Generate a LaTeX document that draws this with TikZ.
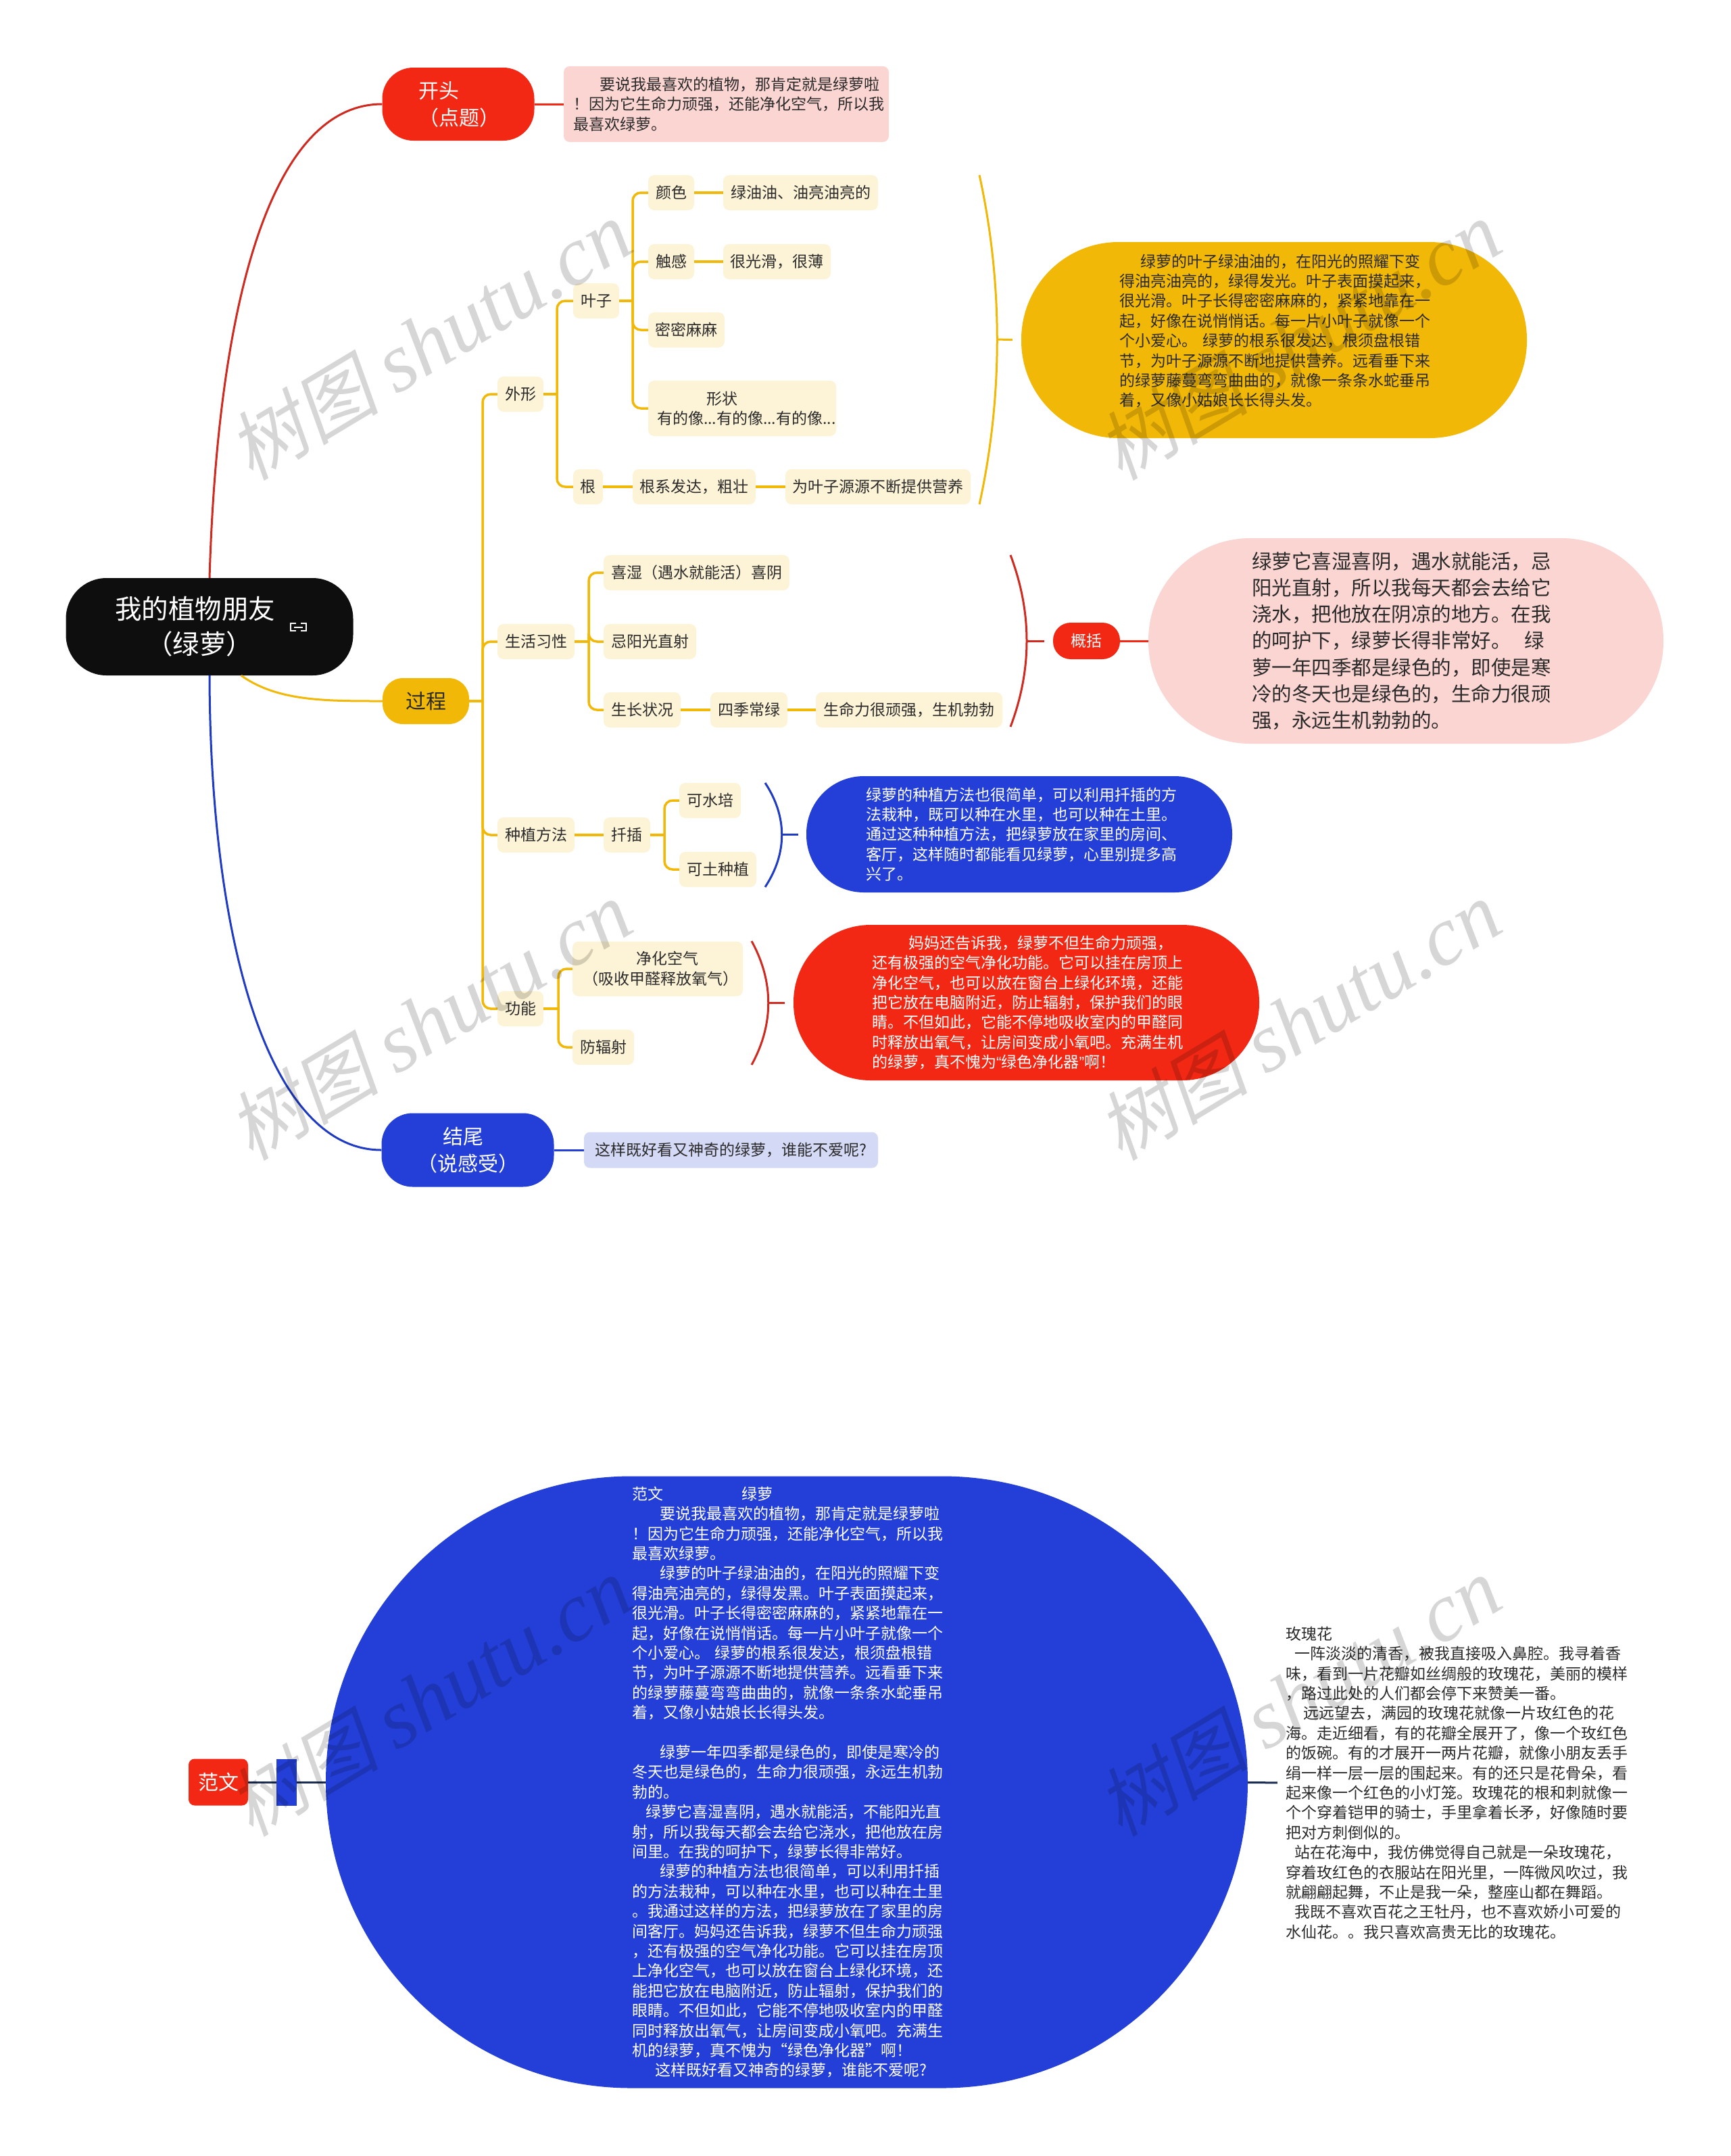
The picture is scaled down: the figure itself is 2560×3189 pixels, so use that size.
\documentclass[tikz,border=0pt]{standalone}
\usepackage{fontspec}
\setmainfont{Noto Sans CJK SC}
\newfontfamily\markcjk[FakeSlant = 0.2]{Noto Sans CJK SC}
\newfontfamily\marklatin{Liberation Serif}
\newfontfamily\quotefont{Liberation Sans}

\definecolor{mapred}{HTML}{F22814}
\definecolor{lineRed}{HTML}{CF2A20}
\definecolor{mapyellow}{HTML}{F2B807}
\definecolor{mapblue}{HTML}{233FD8}
\definecolor{lineBlue}{HTML}{1F3BC4}
\definecolor{leafyellow}{HTML}{FDF3D6}
\definecolor{leafpink}{HTML}{FBD5D1}
\definecolor{leafblue}{HTML}{D4D9F6}
\definecolor{mapblack}{HTML}{0E0E0E}
\definecolor{ink}{HTML}{2A2A2A}
\definecolor{navy}{HTML}{1B2D55}

\newcommand{\smalltext}{\fontsize{23}{29.4}\selectfont}
\newcommand{\midtext}{\fontsize{30}{40}\selectfont}
\newcommand{\bigtext}{\fontsize{29.5}{39.3}\selectfont}
\newcommand{\roottext}{\fontsize{39.5}{52}\selectfont}

\tikzset{
	leaf/.style = {fill = leafyellow, rounded corners = 9pt, inner sep = 0pt, minimum height = 52pt, text = ink, align = center, font = \smalltext},
	pill/.style = {rounded corners = #1, inner sep = 0pt, align = left},
	topic/.style = {pill = 46pt, font = \midtext, align = center},
	link/.style = {line width = 3.5pt, rounded corners = 12pt},
	bow/.style = {line width = 3pt},
}

\begin{document}
\begin{tikzpicture}[x = 1pt, y = -1pt]

	\useasboundingbox (0, 0) rectangle (2560, 3189);

	% Root and the three main topics

	\node [pill = 60pt, fill = mapblack, text = white, font = \roottext, minimum width = 425pt, minimum height = 144pt, text width = 280pt] (root) at (310, 927) {我的植物朋友\\\hspace*{46pt}（绿萝）};
	\node [topic, fill = mapred, text = white, minimum width = 225pt, minimum height = 108pt, text width = 118pt, align = left] (start) at (678, 154) {开头\\（点题）};
	\node [topic, fill = mapyellow, text = ink, minimum width = 128pt, minimum height = 68pt, pill = 30pt, align = center] (middle) at (630, 1037) {过程};
	\node [topic, fill = mapblue, text = white, minimum width = 255pt, minimum height = 109pt, text width = 150pt, align = left] (end) at (692, 1701) {\hspace*{38pt}结尾\\（说感受）};

	\draw [white, line width = 1.7pt] (438, 922) -| (430, 933) -- (438, 933) (445, 922) -| (453, 933) -- (445, 933) (435, 928) -- (448, 928);

	\draw [lineRed, line width = 3pt] (root.north) .. controls (322, 450) and (400, 154) .. (start.west);
	\draw [mapyellow, line width = 3pt] (root.-57) .. controls (410, 1037) and (480, 1037) .. (middle.west);
	\draw [lineBlue, line width = 3pt] (root.south) .. controls (311, 1400) and (400, 1701) .. (end.west);

	% Notes beside the first and the last topic

	\node [leaf, fill = leafpink, minimum width = 481pt, minimum height = 112pt, text width = 453pt, align = left] (startNote) at (1074.5, 154) {\hspace*{39pt}要说我最喜欢的植物，那肯定就是绿萝啦\\！因为它生命力顽强，还能净化空气，所以我\\最喜欢绿萝。};
	\node [leaf, fill = leafblue, minimum width = 435pt, minimum height = 53pt] (endNote) at (1081.5, 1701) {这样既好看又神奇的绿萝，谁能不爱呢?};

	\draw [mapred, line width = 3pt] (start) -- (startNote);
	\draw [mapblue, line width = 3pt] (end) -- (endNote);

	% Second level under the middle topic

	\node [leaf, minimum width = 68pt] (shape) at (770, 583) {外形};
	\node [leaf, minimum width = 114pt] (habit) at (793, 949) {生活习性};
	\node [leaf, minimum width = 114pt] (grow) at (793, 1235) {种植方法};
	\node [leaf, minimum width = 68pt] (use) at (770, 1492) {功能};

	\coordinate (trunkA) at (714, 1037);
	\draw [mapyellow, link] (middle) -- (trunkA);
	\foreach \child in {shape, habit, grow, use}
		\draw [mapyellow, link] (trunkA) |- (\child.west);

	% Leaves and roots

	\node [leaf, minimum width = 68pt] (leafs) at (882, 445) {叶子};
	\node [leaf, minimum width = 44pt] (roots) at (870, 720) {根};
	\node [leaf, minimum width = 68pt] (colour) at (993, 285) {颜色};
	\node [leaf, minimum width = 229pt] (colourA) at (1184.5, 285) {绿油油、油亮油亮的};
	\node [leaf, minimum width = 68pt] (touch) at (993, 387) {触感};
	\node [leaf, minimum width = 159pt] (touchA) at (1149.5, 387) {很光滑，很薄};
	\node [leaf, minimum width = 113pt] (dense) at (1015.5, 488) {密密麻麻};
	\node [leaf, minimum width = 278pt, minimum height = 82pt, text width = 252pt, align = left] (form) at (1098, 604) {\hspace*{73pt}形状\\有的像...有的像...有的像...};
	\node [leaf, minimum width = 182pt] (rootA) at (1027, 720) {根系发达，粗壮};
	\node [leaf, minimum width = 274pt] (rootB) at (1299, 720) {为叶子源源不断提供营养};

	\coordinate (trunkB) at (824, 583);
	\coordinate (trunkC) at (936, 445);
	\draw [mapyellow, link] (shape) -- (trunkB);
	\draw [mapyellow, link] (leafs) -- (trunkC);
	\foreach \child in {leafs, roots}
		\draw [mapyellow, link] (trunkB) |- (\child.west);
	\foreach \child in {colour, touch, dense, form}
		\draw [mapyellow, link] (trunkC) |- (\child.west);
	\draw [mapyellow, link] (colour) -- (colourA);
	\draw [mapyellow, link] (touch) -- (touchA);
	\draw [mapyellow, link] (roots) -- (rootA);
	\draw [mapyellow, link] (rootA) -- (rootB);

	% Habits

	\node [leaf, minimum width = 275pt] (wet) at (1030.5, 847) {喜湿（遇水就能活）喜阴};
	\node [leaf, minimum width = 137pt] (sun) at (961.5, 949) {忌阳光直射};
	\node [leaf, minimum width = 114pt] (state) at (950, 1050) {生长状况};
	\node [leaf, minimum width = 114pt] (green) at (1108, 1050) {四季常绿};
	\node [leaf, minimum width = 276pt] (alive) at (1345, 1050) {生命力很顽强，生机勃勃};

	\coordinate (trunkD) at (871, 949);
	\draw [mapyellow, link] (habit) -- (trunkD);
	\foreach \child in {wet, sun, state}
		\draw [mapyellow, link] (trunkD) |- (\child.west);
	\draw [mapyellow, link] (state) -- (green);
	\draw [mapyellow, link] (green) -- (alive);

	% Planting and use

	\node [leaf, minimum width = 69pt] (cut) at (927.5, 1235) {扦插};
	\node [leaf, minimum width = 91pt] (water) at (1050.5, 1184) {可水培};
	\node [leaf, minimum width = 114pt] (soil) at (1062, 1286) {可土种植};
	\node [leaf, minimum width = 252pt, minimum height = 81pt, text width = 222pt, align = left] (clean) at (973, 1433) {\hspace*{79pt}净化空气\\（吸收甲醛释放氧气）};
	\node [leaf, minimum width = 91pt] (guard) at (892.5, 1549) {防辐射};

	\coordinate (trunkE) at (983, 1235);
	\coordinate (trunkF) at (826, 1492);
	\draw [mapyellow, link] (grow) -- (cut);
	\draw [mapyellow, link] (cut) -- (trunkE);
	\foreach \child in {water, soil}
		\draw [mapyellow, link] (trunkE) |- (\child.west);
	\draw [mapyellow, link] (use) -- (trunkF);
	\foreach \child in {clean, guard}
		\draw [mapyellow, link] (trunkF) |- (\child.west);

	% Summaries at the right, each behind a bow

	\node [pill = 144pt, fill = mapyellow, text = ink, font = \smalltext, minimum width = 748pt, minimum height = 290pt, text width = 457pt] (sumLeaf) at (1885, 503) {\hspace*{31pt}绿萝的叶子绿油油的，在阳光的照耀下变\\得油亮油亮的，绿得发光。叶子表面摸起来，\\很光滑。叶子长得密密麻麻的，紧紧地靠在一\\起，好像在说悄悄话。每一片小叶子就像一个\\个小爱心。 绿萝的根系很发达，根须盘根错\\节，为叶子源源不断地提供营养。远看垂下来\\的绿萝藤蔓弯弯曲曲的，就像一条条水蛇垂吊\\着，又像小姑娘长长得头发。\\\mbox{}};
	\node [pill = 151pt, fill = leafpink, text = ink, font = \bigtext, minimum width = 762pt, minimum height = 304pt, text width = 456pt] (sumHabit) at (2080, 948) {绿萝它喜湿喜阴，遇水就能活，忌\\阳光直射，所以我每天都会去给它\\浇水，把他放在阴凉的地方。在我\\的呵护下，绿萝长得非常好。 \ 绿\\萝一年四季都是绿色的，即使是寒\\冷的冬天也是绿色的，生命力很顽\\强，永远生机勃勃的。};
	\node [pill = 26pt, fill = mapred, text = white, font = \smalltext, minimum width = 99pt, minimum height = 54pt, align = center] (brief) at (1607.5, 948) {概括};
	\node [pill = 85pt, fill = mapblue, text = white, font = \smalltext, minimum width = 630pt, minimum height = 172pt, text width = 454pt] (sumGrow) at (1508, 1234) {绿萝的种植方法也很简单，可以利用扦插的方\\法栽种，既可以种在水里，也可以种在土里。\\通过这种种植方法，把绿萝放在家里的房间、\\客厅，这样随时都能看见绿萝，心里别提多高\\兴了。};
	\node [pill = 114pt, fill = mapred, text = white, font = \smalltext, minimum width = 689pt, minimum height = 230pt, text width = 457pt] (sumUse) at (1518.5, 1483) {\hspace*{54pt}妈妈还告诉我，绿萝不但生命力顽强，\\还有极强的空气净化功能。它可以挂在房顶上\\净化空气，也可以放在窗台上绿化环境，还能\\把它放在电脑附近，防止辐射，保护我们的眼\\睛。不但如此，它能不停地吸收室内的甲醛同\\时释放出氧气，让房间变成小氧吧。充满生机\\的绿萝，真不愧为{\quotefont“}绿色净化器{\quotefont”}啊！};

	\coordinate (bowAtop) at (1449, 259);
	\coordinate (bowAmid) at (1475, 502);
	\coordinate (bowAend) at (1449, 746);
	\coordinate (bowBtop) at (1495, 821);
	\coordinate (bowBmid) at (1519, 948);
	\coordinate (bowBend) at (1495, 1075);
	\coordinate (bowCtop) at (1132, 1158);
	\coordinate (bowCmid) at (1157, 1234);
	\coordinate (bowCend) at (1132, 1312);
	\coordinate (bowDtop) at (1112, 1392);
	\coordinate (bowDmid) at (1137, 1483);
	\coordinate (bowDend) at (1112, 1575);

	\begin{scope}[bow]

		\draw [mapyellow] (bowAtop) .. controls +(35, 160) and +(35, -160) .. (bowAend);
		\draw [mapyellow, shorten > = 13pt] (bowAmid) -- (sumLeaf.west);

		\draw [lineRed] (bowBtop) .. controls +(32, 85) and +(32, -85) .. (bowBend);
		\draw [lineRed, shorten > = 13pt] (bowBmid) -- (brief.west);
		\draw [mapred] (brief) -- (sumHabit);

		\draw [lineBlue] (bowCtop) .. controls +(33, 50) and +(33, -50) .. (bowCend);
		\draw [lineBlue, shorten > = 12pt] (bowCmid) -- (sumGrow.west);

		\draw [lineRed] (bowDtop) .. controls +(33, 60) and +(33, -60) .. (bowDend);
		\draw [lineRed, shorten > = 13pt] (bowDmid) -- (sumUse.west);

	\end{scope}

	% Second map at the bottom

	\node [leaf, fill = mapred, text = white, font = \midtext, minimum width = 88pt, minimum height = 69pt] (essay) at (323, 2636) {范文};
	\node [fill = mapblue, inner sep = 0pt, minimum width = 30pt, minimum height = 69pt] (blank) at (424, 2636) {};
	\node [pill = 452pt, fill = mapblue, text = white, font = \smalltext, minimum width = 1364pt, minimum height = 905pt, text width = 458pt] (essayBody) at (1164, 2636) {范文\hspace*{116pt}绿萝\\\hspace*{41pt}要说我最喜欢的植物，那肯定就是绿萝啦\\！因为它生命力顽强，还能净化空气，所以我\\最喜欢绿萝。\\\hspace*{41pt}绿萝的叶子绿油油的，在阳光的照耀下变\\得油亮油亮的，绿得发黑。叶子表面摸起来，\\很光滑。叶子长得密密麻麻的，紧紧地靠在一\\起，好像在说悄悄话。每一片小叶子就像一个\\个小爱心。 绿萝的根系很发达，根须盘根错\\节，为叶子源源不断地提供营养。远看垂下来\\的绿萝藤蔓弯弯曲曲的，就像一条条水蛇垂吊\\着，又像小姑娘长长得头发。\\\mbox{}\\\hspace*{41pt}绿萝一年四季都是绿色的，即使是寒冷的\\冬天也是绿色的，生命力很顽强，永远生机勃\\勃的。\\\hspace*{20pt}绿萝它喜湿喜阴，遇水就能活，不能阳光直\\射，所以我每天都会去给它浇水，把他放在房\\间里。在我的呵护下，绿萝长得非常好。\\\hspace*{41pt}绿萝的种植方法也很简单，可以利用扦插\\的方法栽种，可以种在水里，也可以种在土里\\。我通过这样的方法，把绿萝放在了家里的房\\间客厅。妈妈还告诉我，绿萝不但生命力顽强\\，还有极强的空气净化功能。它可以挂在房顶\\上净化空气，也可以放在窗台上绿化环境，还\\能把它放在电脑附近，防止辐射，保护我们的\\眼睛。不但如此，它能不停地吸收室内的甲醛\\同时释放出氧气，让房间变成小氧吧。充满生\\机的绿萝，真不愧为“绿色净化器”啊！\\\hspace*{34pt}这样既好看又神奇的绿萝，谁能不爱呢?};
	\node [inner xsep = 12pt, inner ysep = 0pt, text = ink, font = \smalltext, text width = 510pt, align = left] (rose) at (2157, 2637) {玫瑰花\\\hspace*{13pt}一阵淡淡的清香，被我直接吸入鼻腔。我寻着香\\味，看到一片花瓣如丝绸般的玫瑰花，美丽的模样\\，路过此处的人们都会停下来赞美一番。\\\hspace*{26pt}远远望去，满园的玫瑰花就像一片玫红色的花\\海。走近细看，有的花瓣全展开了，像一个玫红色\\的饭碗。有的才展开一两片花瓣，就像小朋友丢手\\绢一样一层一层的围起来。有的还只是花骨朵，看\\起来像一个红色的小灯笼。玫瑰花的根和刺就像一\\个个穿着铠甲的骑士，手里拿着长矛，好像随时要\\把对方刺倒似的。\\\hspace*{13pt}站在花海中，我仿佛觉得自己就是一朵玫瑰花，\\穿着玫红色的衣服站在阳光里，一阵微风吹过，我\\就翩翩起舞，不止是我一朵，整座山都在舞蹈。\\\hspace*{13pt}我既不喜欢百花之王牡丹，也不喜欢娇小可爱的\\水仙花。。我只喜欢高贵无比的玫瑰花。};

	\begin{scope}[navy, line width = 3pt]

		\draw (essay) -- (blank);
		\draw (blank) -- (essayBody);
		\draw (essayBody) -- (rose);

	\end{scope}

	% Site mark over everything

	\foreach \markx/\marky [count = \markno] in {636/505, 1922/505, 636/1511, 1922/1511, 636/2511, 1922/2511}
		\node [rotate = 31, opacity = 0.16, inner sep = 0pt] (mark\markno) at (\markx, \marky) {\fontsize{112}{120}\markcjk\selectfont 树图\ \marklatin\fontsize{124}{130}\selectfont\itshape shutu.cn};

\end{tikzpicture}
\end{document}
